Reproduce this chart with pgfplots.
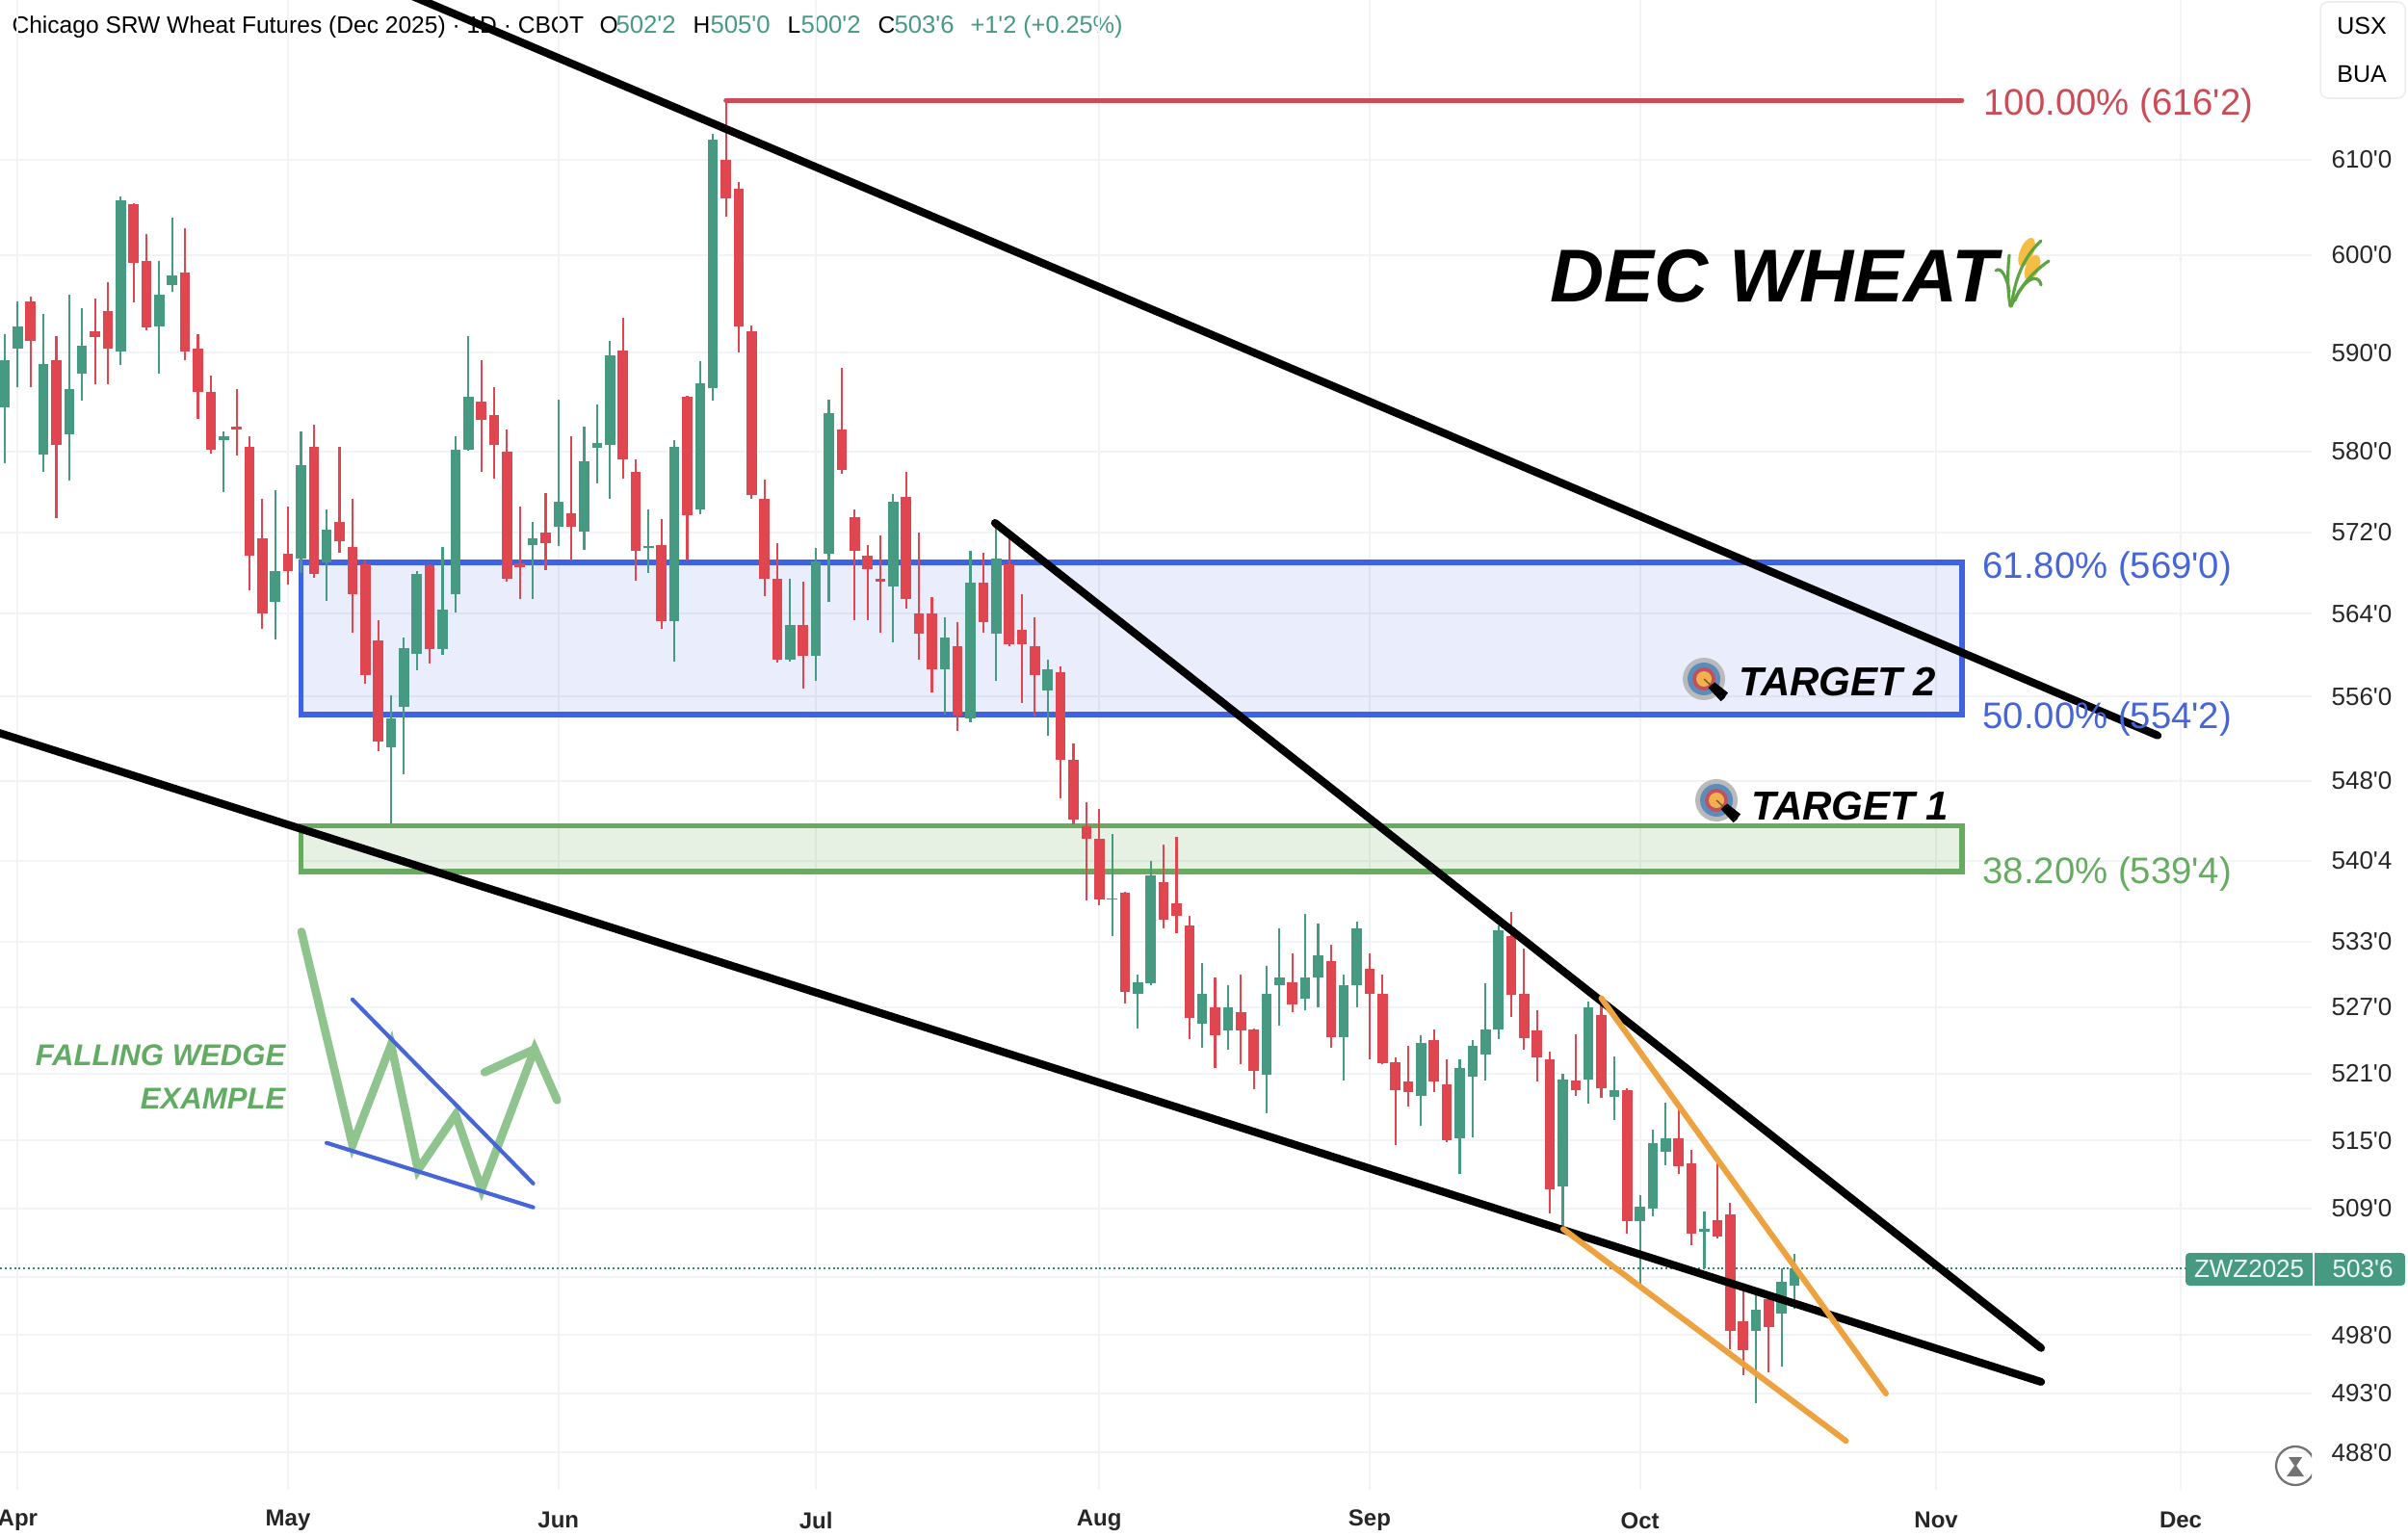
\documentclass[border=0pt]{standalone}
\usepackage{fontspec}
\setmainfont{Liberation Sans}
\usepackage{pgfplots}
\usepackage{pgfplotstable}
\pgfplotsset{compat=1.18}
\newcommand\q{\textquotesingle}
\definecolor{cg}{HTML}{479A82}
\definecolor{cr}{HTML}{E0464F}
\definecolor{gridc}{HTML}{F1F3F6}
\definecolor{boxb}{HTML}{3F62E4}
\definecolor{boxg}{HTML}{68AB60}
\definecolor{fibr}{HTML}{CC4B57}
\definecolor{fibb}{HTML}{4565D8}
\definecolor{fibg}{HTML}{67AB62}
\definecolor{orng}{HTML}{EDA23F}
\definecolor{sketch}{HTML}{8FC48E}
\definecolor{wg}{HTML}{62AB62}
\pgfplotstableread{
x open high low close
0 584.5 591.9 578.8 589.2
1 590.4 595.2 586.5 592.7
3 579.7 594.0 578.0 588.9
5 581.7 595.9 577.1 586.3
6 587.9 594.6 585.1 590.7
9 590.1 606.1 588.7 605.7
12 592.7 599.4 587.8 595.9
13 596.9 603.9 596.2 597.9
17 581.2 582.0 576.0 581.5
21 565.2 576.2 561.5 568.2
23 569.4 582.0 568.0 578.7
25 569.0 574.2 565.3 572.2
30 551.2 556.1 544.0 553.9
31 555.0 561.7 548.6 560.7
32 560.1 568.2 558.5 567.9
34 560.6 570.5 560.0 564.4
35 565.9 581.5 564.1 580.2
36 580.2 591.7 580.1 585.5
41 570.7 573.0 565.5 571.4
43 572.5 585.2 570.6 575.0
45 572.1 582.5 570.3 579.0
46 580.4 584.7 576.8 580.9
47 580.7 591.2 575.3 589.7
50 570.4 574.2 568.0 570.6
52 563.3 581.2 559.4 580.5
54 574.2 589.1 573.8 586.9
55 586.4 612.7 585.1 612.1
61 559.6 567.4 559.4 562.9
63 559.9 570.4 557.5 569.1
64 569.9 585.2 565.2 583.9
69 566.7 575.8 561.2 575.0
73 558.6 563.7 554.3 561.7
75 553.9 570.2 553.5 567.0
77 562.1 572.9 557.5 569.4
81 556.6 559.6 552.3 558.6
86 536.9 543.0 533.5 537.0
88 528.2 530.0 525.1 529.3
89 529.2 540.5 529.0 539.1
93 525.5 531.0 523.3 528.2
95 524.9 529.0 523.1 527.0
98 520.9 530.7 517.4 528.2
99 529.0 534.2 525.3 529.7
101 527.8 535.5 526.7 529.7
102 529.7 534.6 527.0 531.7
104 524.3 530.0 520.4 529.0
105 529.0 534.8 527.0 534.2
110 519.0 524.4 516.3 523.7
113 515.2 522.3 512.0 521.5
114 520.7 524.0 515.3 523.5
115 522.7 529.2 520.4 525.0
116 525.0 534.5 524.1 534.0
121 510.9 521.0 507.3 520.5
123 520.5 527.5 518.3 527.0
125 518.9 522.5 516.8 519.5
127 507.9 510.2 502.1 509.2
128 509.0 516.0 508.3 514.8
129 514.0 518.4 512.8 515.2
132 507.0 508.7 503.75 507.2
136 498.4 501.8 492.2 500.2
138 499.9 503.8 495.3 502.6
139 502.25 505.0 500.25 503.75
}\greendata
\pgfplotstableread{
x open high low close
2 595.2 595.7 586.5 591.2
4 589.2 591.7 573.4 580.7
7 592.2 595.5 586.8 591.6
8 594.2 597.2 586.8 590.4
10 605.3 605.4 595.1 599.2
11 599.4 602.2 592.3 592.6
14 598.2 602.8 589.2 590.1
15 590.4 591.9 583.3 586.0
16 586.0 587.7 579.8 580.2
18 582.5 586.3 579.6 582.2
19 580.5 581.5 566.3 569.7
20 571.4 575.3 562.5 564.0
22 569.9 574.5 566.8 568.2
24 580.5 582.7 567.5 567.9
26 573.0 580.5 570.0 571.1
27 570.5 575.3 562.2 565.9
28 568.8 569.2 557.2 558.1
29 561.4 563.4 550.8 551.7
33 568.7 568.8 559.2 560.6
37 585.0 589.2 578.0 583.2
38 583.7 586.5 577.3 580.7
39 580.0 582.2 567.1 567.4
40 568.9 574.5 565.5 568.6
42 571.9 575.9 568.3 570.9
44 573.9 581.5 569.2 572.6
48 590.2 593.5 577.3 579.2
49 578.0 579.2 567.2 570.2
51 570.7 573.3 562.5 563.3
53 585.5 585.6 569.2 573.7
56 610.0 616.25 604.0 605.9
57 606.9 607.6 590.0 592.7
58 592.2 592.8 575.3 575.7
59 575.3 577.2 565.7 567.4
60 567.4 570.9 559.3 559.6
62 562.9 567.1 556.8 559.9
65 582.2 588.5 577.8 578.2
66 573.5 574.2 563.4 570.2
67 569.7 570.7 563.4 568.4
68 567.4 571.7 562.2 567.1
70 575.5 578.0 564.5 565.4
71 564.0 571.9 559.6 562.1
72 564.0 565.6 556.4 558.6
74 560.9 563.2 552.7 554.2
76 567.0 570.0 562.2 563.2
78 568.8 571.9 560.9 561.1
79 562.4 565.9 555.4 561.1
80 560.9 563.7 554.1 558.1
82 558.4 558.9 546.3 550.0
83 550.0 551.5 543.9 544.3
84 543.7 546.0 536.8 542.5
85 542.5 545.3 536.3 536.9
87 537.5 537.6 527.3 528.4
90 538.5 542.0 534.2 535.0
91 536.5 542.7 533.8 535.4
92 534.5 535.4 524.1 526.0
94 527.0 529.7 521.5 524.4
96 526.5 530.0 521.8 524.9
97 525.0 525.1 519.6 521.2
100 529.3 531.9 526.5 527.2
103 531.2 532.7 523.3 524.3
106 530.5 531.9 522.3 528.2
107 528.2 530.0 521.8 521.9
108 522.0 522.4 514.6 519.5
109 520.3 523.5 518.0 519.3
111 524.0 525.0 519.3 520.3
112 520.0 522.3 514.9 515.0
117 533.5 535.7 526.1 528.1
118 528.2 532.3 523.1 524.2
119 524.9 526.7 520.3 522.4
120 522.3 523.0 508.6 510.7
122 520.4 524.5 519.0 519.5
124 526.3 527.9 518.8 519.7
126 519.5 519.7 506.8 507.9
130 515.2 518.3 512.0 512.7
131 513.0 514.2 505.8 506.8
133 508.0 513.5 506.4 506.5
134 508.5 509.5 496.8 498.4
135 499.2 501.8 494.6 496.7
137 501.1 501.3 494.8 498.7
}\reddata
% one wick and one body per table row
\newcommand\candles[2]{%
 \pgfplotstablegetrowsof{#1}\pgfmathtruncatemacro\nrows{\pgfplotsretval-1}%
 \pgfplotsforeachungrouped \i in {0,...,\nrows}{%
  \pgfplotstablegetelem{\i}{x}\of{#1}\edef\cx{\pgfplotsretval}%
  \pgfplotstablegetelem{\i}{open}\of{#1}\edef\co{\pgfplotsretval}%
  \pgfplotstablegetelem{\i}{high}\of{#1}\edef\ch{\pgfplotsretval}%
  \pgfplotstablegetelem{\i}{low}\of{#1}\edef\cl{\pgfplotsretval}%
  \pgfplotstablegetelem{\i}{close}\of{#1}\edef\cc{\pgfplotsretval}%
  \edef\temp{\noexpand\addplot[#2,line width=0.75pt,forget plot] coordinates {(\cx,\cl)(\cx,\ch)};
   \noexpand\addplot[#2,line width=3.7pt,forget plot] coordinates {(\cx,\co)(\cx,\cc)};}%
  \temp
 }%
}
\definecolor{HTML5blue}{HTML}{5A8DBB}
\definecolor{HTML5red}{HTML}{C4505C}
\definecolor{HTML5org}{HTML}{F2B14F}
\newcommand\target[2]{%
 \fill[black!20!gray!45] (#1,#2) circle (22);
 \fill[HTML5blue] (#1,#2) circle (17);
 \fill[HTML5red] (#1,#2) circle (12);
 \fill[HTML5org] (#1,#2) circle (8);
 \draw[line width=0.55pt,brown!70!black] (#1,#2) -- ++(13,12);
 \draw[line width=2.3pt,black] (#1,#2) ++(7,7) -- ++(13,14);
 \draw[line width=2.3pt,black] (#1,#2) ++(9,6) -- ++(14,11);
}
\begin{document}
\begin{tikzpicture}
\useasboundingbox (0,0) rectangle (875pt,558.6pt);
\begin{scope}[shift={(0,558.6pt)},x=0.35pt,y=-0.35pt,every node/.style={inner sep=0,anchor=base west,font=\fontsize{8.6}{10}\selectfont}]
\node at (12,35) {Chicago SRW Wheat Futures (Dec 2025) · 1D · CBOT};
\node at (622,35) {O}; \node[text=cg,font=\fontsize{9}{10}\selectfont] at (639,35) {502\q2};
\node at (719,35) {H}; \node[text=cg,font=\fontsize{9}{10}\selectfont] at (737,35) {505\q0};
\node at (817,35) {L}; \node[text=cg,font=\fontsize{9}{10}\selectfont] at (831,35) {500\q2};
\node at (911,35) {C}; \node[text=cg,font=\fontsize{9}{10}\selectfont] at (928,35) {503\q6};
\node[text=cg,font=\fontsize{8.85}{10}\selectfont] at (1007,35) {+1\q2 (+0.25\%)};
\end{scope}
\begin{axis}[
  at={(0,17.15pt)},anchor=south west,
  scale only axis,width=840pt,height=541.45pt,
  ymode=log,
  xmin=-0.374,xmax=179.17,ymin=484.92,ymax=627.06,
  clip mode=individual,
  axis line style={draw=none},
  tick style={draw=none},
  major tick length=0pt,
  grid=major,
  grid style={gridc,line width=0.7pt},
  xtick={1,22,43,63,85,106,127,150,169},
  xticklabels={Apr,May,Jun,Jul,Aug,Sep,Oct,Nov,Dec},
  xticklabel style={anchor=center,yshift=-11.3pt,font=\fontsize{8.4}{10}\selectfont\bfseries,text=black!85},
  ytick={488,493,498,503,509,515,521,527,533,540.5,548,556,564,572,580,590,600,610},
  yticklabels={488\q0,493\q0,498\q0,,509\q0,515\q0,521\q0,527\q0,533\q0,540\q4,548\q0,556\q0,564\q0,572\q0,580\q0,590\q0,600\q0,610\q0},
  minor ytick={},
  yticklabel pos=right,
  yticklabel style={anchor=center,xshift=18.2pt,font=\fontsize{9.1}{10}\selectfont,text=black!85},
]
% zones
\addplot[draw=boxb,fill=boxb,fill opacity=.115,line width=2pt,line join=miter] coordinates {(23,569)(152,569)(152,554.25)(23,554.25)} -- cycle;
\addplot[draw=boxg,fill=boxg,fill opacity=.17,line width=2pt,line join=miter] coordinates {(23,543.75)(152,543.75)(152,539.5)(23,539.5)} -- cycle;
% last price
\addplot[cg!85!black,line width=0.7pt,dash pattern=on 0.7pt off 1pt] coordinates {(-0.374,503.75)(179.17,503.75)};
% candles
\candles{\greendata}{cg}
\candles{\reddata}{cr}
% fib 100
\addplot[fibr,line width=1.7pt,line cap=round] coordinates {(56,616.25)(152,616.25)};
% trend lines
\addplot[black,line width=2.85pt,line cap=round] coordinates {(22.07,633.1)(167.2,552.3)};
\addplot[black,line width=2.85pt,line cap=round] coordinates {(-1.122,552.8)(158.15,494.0)};
\addplot[black,line width=2.85pt,line cap=round] coordinates {(76.9,572.9)(158.15,496.9)};
\addplot[orng,line width=2.1pt,line cap=round] coordinates {(124.0,527.8)(146.1,493.0)};
\addplot[orng,line width=2.1pt,line cap=round] coordinates {(121.04,507.2)(143.0,489.0)};
% falling wedge sketch
\addplot[sketch,line width=3pt,line cap=round,line join=miter] coordinates {(23.04,533.9)(27,514.6)(30,523.6)(32.09,512.4)(35.01,517.3)(37.03,510.7)(41.15,523.2)(42.9,518.6)};
\addplot[sketch,line width=3pt,line cap=round] coordinates {(37.26,521.1)(41.15,523.2)};
\addplot[fibb,line width=1.45pt,line cap=round] coordinates {(27,527.7)(41.04,511.2)};
\addplot[fibb,line width=1.45pt,line cap=round] coordinates {(24.99,514.8)(41.04,509.1)};
\end{axis}
\begin{scope}[shift={(0,558.6pt)},x=0.35pt,y=-0.35pt,every node/.style={inner sep=0}]
% fib labels
\node[anchor=west,text=fibr,font=\fontsize{13.4}{15}\selectfont] at (2059,110) {100.00\% (616\q2)};
\node[anchor=west,text=fibb,font=\fontsize{13.4}{15}\selectfont] at (2058,591) {61.80\% (569\q0)};
\node[anchor=west,text=fibb,font=\fontsize{13.4}{15}\selectfont] at (2058,747) {50.00\% (554\q2)};
\node[anchor=west,text=fibg,font=\fontsize{13.4}{15}\selectfont] at (2058,908) {38.20\% (539\q4)};
% title
\node[anchor=base west,font=\fontsize{27.2}{31}\selectfont\bfseries\itshape] at (1609,314) {DEC WHEAT};
% wheat
\fill[HTML5org!85!yellow,rotate around={-22:(2104,262)}] (2104,262) ellipse (7 and 16);
\fill[HTML5org!85!yellow,rotate around={-22:(2110,278)}] (2110,278) ellipse (7 and 14);
\draw[green!35!gray!80!olive,line width=1.1pt,line cap=round] (2088,318) .. controls (2092,290) and (2100,268) .. (2119,250);
\draw[green!35!gray!80!olive,line width=1.1pt,line cap=round] (2088,318) .. controls (2096,300) and (2108,284) .. (2127,271);
\draw[green!35!gray!80!olive,line width=1.1pt,line cap=round] (2087,318) .. controls (2084,300) and (2084,282) .. (2086,265);
\draw[green!35!gray!80!olive,line width=1.1pt,line cap=round] (2086,303) .. controls (2084,290) and (2078,276) .. (2072,281);
\draw[green!35!gray!80!olive,line width=1.1pt,line cap=round] (2092,312) .. controls (2098,295) and (2115,280) .. (2119,296);
% targets
\target{1769}{705}
\target{1782}{831}
\node[anchor=base west,font=\fontsize{14.7}{17}\selectfont\bfseries\itshape] at (1805,723) {TARGET 2};
\node[anchor=base west,font=\fontsize{14.7}{17}\selectfont\bfseries\itshape] at (1818,852) {TARGET 1};
% wedge label
\node[anchor=base east,text=wg,font=\fontsize{10.9}{13}\selectfont\bfseries\itshape] at (297,1106) {FALLING WEDGE};
\node[anchor=base east,text=wg,font=\fontsize{10.9}{13}\selectfont\bfseries\itshape] at (297,1151) {EXAMPLE};
% USX BUA
\draw[black!7,line width=0.56pt,rounded corners=2.8pt] (2409,2) rectangle (2497,102);
\node[font=\fontsize{8.75}{10}\selectfont] at (2452,27) {USX};
\node[font=\fontsize{8.75}{10}\selectfont] at (2452,77) {BUA};
% price tag
\fill[cg,rounded corners=1.4pt] (2269,1301) rectangle (2497,1335);
\fill[white] (2400.5,1301) rectangle (2402.5,1335);
\node[text=white!92!cg,font=\fontsize{9.1}{10}\selectfont] at (2335,1318) {ZWZ2025};
\node[text=white!92!cg,font=\fontsize{9.1}{10}\selectfont] at (2453,1318) {503\q6};
% clock
\begin{scope}
\clip (2350,1490) rectangle (2400,1550);
\draw[black!55,line width=0.8pt] (2383,1522) circle (20);
\fill[black!55] (2376,1513) -- (2390,1513) -- (2384,1522) -- (2392,1533) -- (2374,1533) -- (2382,1522) -- cycle;
\end{scope}
\end{scope}
\end{tikzpicture}
\end{document}
